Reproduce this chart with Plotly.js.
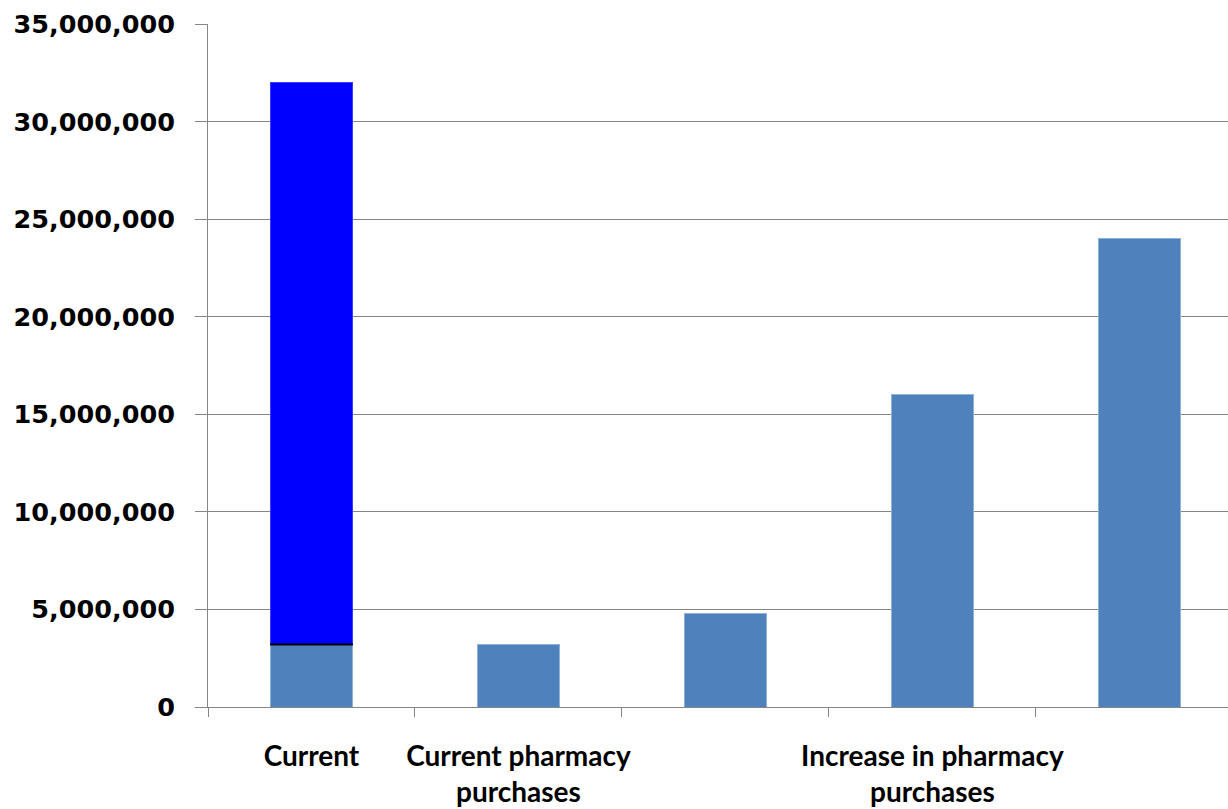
<!DOCTYPE html>
<html>
<head>
<meta charset="utf-8">
<script src="https://cdn.plot.ly/plotly-3.0.1.min.js"></script>
<style>html,body{margin:0;padding:0;background:#fff;}#chart{width:1228px;height:809px;}</style>
</head>
<body>
<div id="chart"></div>
<script>
var categories = ["Current", "Current pharmacy purchases", "Scenario A", "Increase in pharmacy purchases", "Scenario B"];
var tickLabels = ["Current", "Current pharmacy<br>purchases", "", "Increase in pharmacy<br>purchases", ""];
var baseValues = [3200000, 3200000, 4800000, 16000000, 24000000];
var addedValues = [28800000, null, null, null, null];
var yTicks = [0, 5000000, 10000000, 15000000, 20000000, 25000000, 30000000, 35000000];

var barWidth = 0.4;
var traces = [
  {type: "bar", x: categories, y: baseValues, width: barWidth,
   marker: {color: "#4F81BD", line: {color: "#8FB0D8", width: 1}}, hoverinfo: "y"},
  {type: "bar", x: categories, y: addedValues, width: barWidth,
   marker: {color: "#0000FF", line: {color: "#3B3BFF", width: 1}}, hoverinfo: "y"}
];

var layout = {
  width: 1228, height: 809,
  barmode: "stack",
  showlegend: false,
  paper_bgcolor: "#fff", plot_bgcolor: "#fff",
  margin: {l: 208, r: 0, t: 24, b: 102},
  xaxis: {
    type: "category",
    range: [-0.5, 4.428],
    tickmode: "array", tickvals: categories, ticktext: tickLabels,
    tickangle: 0,
    tickson: "boundaries", ticks: "outside", ticklen: 9, tickcolor: "#868686", tickwidth: 1,
    showline: true, linecolor: "#868686", linewidth: 1,
    showgrid: false,
    ticklabelstandoff: 24,
    tickfont: {family: "Lato, 'Open Sans', sans-serif", size: 28, color: "#000", weight: "bold"}
  },
  yaxis: {
    range: [0, 35000000],
    tickmode: "array", tickvals: yTicks,
    tickformat: ",d",
    ticks: "outside", ticklen: 12, tickcolor: "#868686", tickwidth: 1,
    showline: true, linecolor: "#868686", linewidth: 1,
    showgrid: true, gridcolor: "#868686", gridwidth: 1,
    zeroline: false,
    ticklabelstandoff: 15,
    tickfont: {family: "'DejaVu Sans', Verdana, sans-serif", size: 25.5, color: "#000", weight: "bold"}
  },
  shapes: [{
    type: "line", xref: "x", yref: "y",
    x0: -barWidth / 2, x1: barWidth / 2,
    y0: baseValues[0], y1: baseValues[0],
    line: {color: "#000", width: 2}
  }]
};

Plotly.newPlot("chart", traces, layout, {displayModeBar: false, staticPlot: true});
</script>
</body>
</html>
